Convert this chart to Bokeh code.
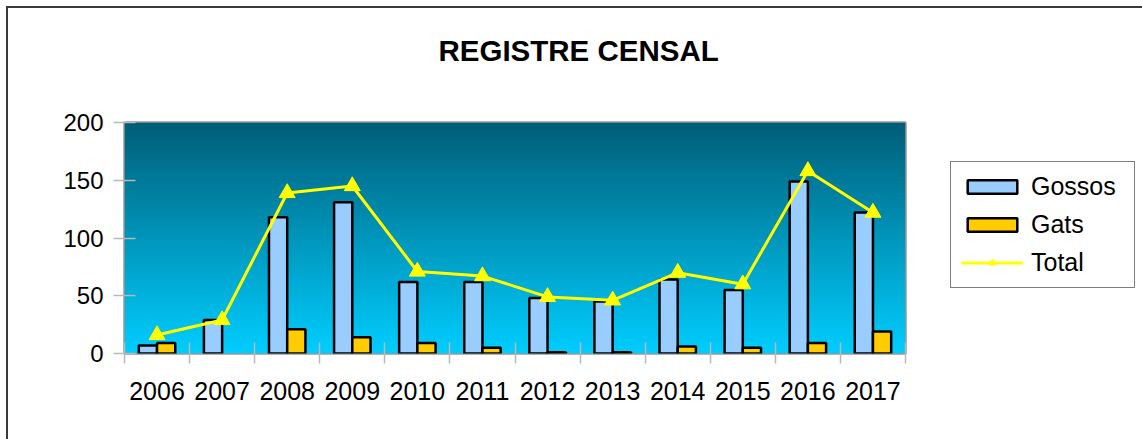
import numpy as np
from bokeh.plotting import figure
from bokeh.models import (ColumnDataSource, FixedTicker, Legend, LegendItem,
                          Title, CDSView, BooleanFilter, Range1d)
from bokeh.embed import file_html
from bokeh.resources import INLINE

# ---- data ----
years = ["2006", "2007", "2008", "2009", "2010", "2011",
         "2012", "2013", "2014", "2015", "2016", "2017"]
gossos = [7, 29, 118, 131, 62, 62, 48, 45, 64, 55, 149, 122]
gats = [9, 0, 21, 14, 9, 5, 1, 1, 6, 5, 9, 19]
total = [16, 29, 139, 145, 71, 67, 49, 46, 70, 60, 158, 122]
y_ticks = [0, 50, 100, 150, 200]

FONT = "Liberation Sans"
idx = list(range(len(years)))
bw = 0.28

src = ColumnDataSource(dict(
    x=idx,
    xg=[i - bw / 2 for i in idx],
    xc=[i + bw / 2 for i in idx],
    gossos=gossos, gats=gats, total=total,
))

p = figure(frame_width=781, frame_height=231, output_backend="svg", toolbar_location=None,
           x_range=Range1d(-0.5, len(years) - 0.5), y_range=Range1d(0, 200),
           min_border_left=124, min_border_right=0, min_border_top=122,
           min_border_bottom=86, background_fill_color="white",
           border_fill_color=None)
# chart border (left and top edges visible, the rest runs past the window)
p.styles = {"background": "linear-gradient(#3a3a3a,#3a3a3a) 6px 6px / 2px 100% no-repeat, "
                          "linear-gradient(#3a3a3a,#3a3a3a) 6px 6px / 100% 2px no-repeat, white"}

# gradient background
n = 256
img = np.zeros((n, 1), dtype=np.uint32)
view = img.view(dtype=np.uint8).reshape((n, 1, 4))
top = np.array([0, 94, 120])
bot = np.array([0, 206, 255])
for r in range(n):
    t = r / (n - 1)  # 0 bottom -> 1 top
    c = bot * (1 - t) + top * t
    view[r, 0, 0] = int(c[0]); view[r, 0, 1] = int(c[1]); view[r, 0, 2] = int(c[2]); view[r, 0, 3] = 255
p.image_rgba(image=[img], x=-0.5, y=0, dw=len(years), dh=200)

p.xgrid.visible = False
p.ygrid.visible = False
p.outline_line_color = "#999999"
p.outline_line_width = 2.5

rg = p.vbar(x="xg", top="gossos", width=bw, source=src, fill_color="#99CCFF",
            line_color="black", line_width=2.5)
view_g = CDSView(filter=BooleanFilter([v > 0 for v in gats]))
rc = p.vbar(x="xc", top="gats", width=bw, source=src, view=view_g,
            fill_color="#FFCC00", line_color="black", line_width=2.5)
rl = p.line(x="x", y="total", source=src, line_color="#FFFF00", line_width=3)
rs = p.scatter(x="x", y="total", source=src, marker="triangle", size=16,
               fill_color="#FFFF00", line_color="#FFFF00")

# axes
xa = p.xaxis[0]
xa.ticker = FixedTicker(ticks=idx, minor_ticks=[i - 0.5 for i in range(len(years) + 1)])
xa.major_label_overrides = {i: y for i, y in enumerate(years)}
xa.major_tick_line_color = None
xa.major_tick_in = 0
xa.major_tick_out = 0
xa.minor_tick_in = 11
xa.minor_tick_out = 10
xa.minor_tick_line_color = "#b8b8b8"
xa.minor_tick_line_width = 1.5
xa.axis_line_color = None
xa.major_label_text_font = FONT
xa.major_label_text_font_size = "25px"
xa.major_label_text_color = "black"
xa.major_label_standoff = 18

ya = p.yaxis[0]
ya.ticker = FixedTicker(ticks=y_ticks, minor_ticks=[])
ya.major_tick_in = 11
ya.major_tick_out = 11
ya.major_tick_line_color = "#b8b8b8"
ya.major_tick_line_width = 1.5
ya.minor_tick_line_color = None
ya.axis_line_color = None
ya.major_label_text_font = FONT
ya.major_label_text_font_size = "24px"
ya.major_label_text_color = "black"
ya.major_label_standoff = 10

# title: a blank spacer next to the frame, then the real title above it
spacer = Title(text=" ", text_font_size="1px", standoff=48)
p.add_layout(spacer, "above")
t = Title(text="REGISTRE CENSAL", align="left", offset=314,
          text_font=FONT, text_font_size="29.5px", text_font_style="bold",
          text_color="black", standoff=10)
p.add_layout(t, "above")

# legend
legend = Legend(items=[
    LegendItem(label="Gossos", renderers=[rg]),
    LegendItem(label="Gats", renderers=[rc]),
    LegendItem(label="Total", renderers=[rl, rs]),
], location=(45, 65), orientation="vertical")
legend.glyph_width = 62
legend.glyph_height = 17
legend.label_width = 93
legend.label_height = 29
legend.label_standoff = 8
legend.padding = 10
legend.spacing = 9
legend.margin = 0
legend.label_text_font = FONT
legend.label_text_font_size = "25px"
legend.label_text_color = "black"
legend.border_line_color = "black"
legend.border_line_width = 1
legend.background_fill_color = "white"
legend.background_fill_alpha = 1
p.add_layout(legend, "right")

open("out.html", "w").write(file_html(p, INLINE))
